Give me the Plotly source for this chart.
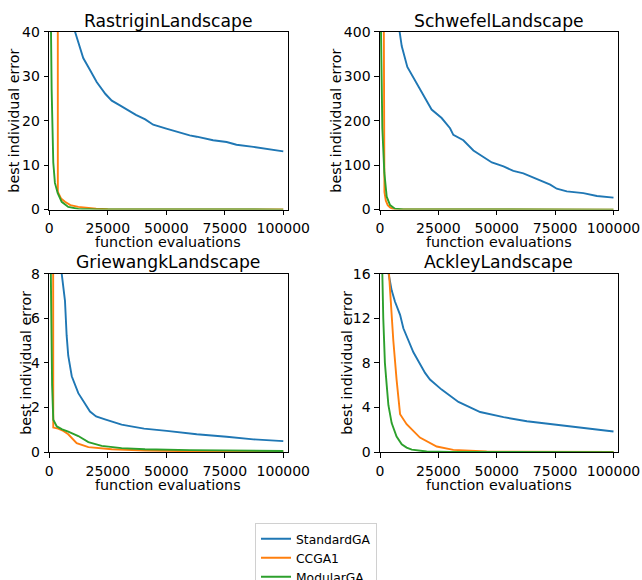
import plotly.graph_objects as go

# ---------------- data ----------------
series_names = ["StandardGA", "CCGA1", "ModularGA"]
colors = ["#1f77b4", "#ff7f0e", "#2ca02c"]
titles = ["RastriginLandscape", "SchwefelLandscape", "GriewangkLandscape", "AckleyLandscape"]
x_ticks = [0, 25000, 50000, 75000, 100000]

# Rastrigin
ras_std_x = [0, 8000, 11000, 14500, 17400, 20250, 24000, 26700, 30000, 33000, 37000, 41000, 44400, 50000, 54400, 60000, 63000, 70000, 75800, 80000, 87200, 92000, 100000]
ras_std_y = [70, 46, 40, 34.1, 31.4, 28.7, 26.0, 24.5, 23.5, 22.5, 21.3, 20.3, 19.1, 18.2, 17.5, 16.7, 16.4, 15.6, 15.2, 14.6, 14.1, 13.7, 13.1]
ras_cc_x = [0, 3500, 3650, 5000, 6700, 9000, 12400, 16000, 20000, 25000, 35000, 50000, 100000]
ras_cc_y = [400, 390, 4.0, 2.5, 1.75, 1.0, 0.6, 0.35, 0.2, 0.1, 0.04, 0.02, 0.01]
ras_mod_x = [0, 400, 730, 1000, 1300, 1700, 2400, 3600, 5300, 8100, 12400, 20000, 100000]
ras_mod_y = [200, 70, 40, 27, 18.3, 10.6, 6.0, 3.7, 1.75, 0.6, 0.15, 0.03, 0.0]

# Schwefel
sch_std_x = [0, 5000, 8300, 9300, 11700, 15700, 22100, 26400, 30000, 31400, 35700, 40000, 43600, 47900, 52900, 57100, 61400, 65700, 72900, 75700, 80000, 87100, 92900, 100000]
sch_std_y = [700, 520, 400, 368, 321, 283, 225, 206, 183, 168, 156, 133, 121, 106, 97, 87, 81.5, 71.5, 56, 47, 41, 37, 30.7, 27]
sch_cc_x = [0, 1500, 1900, 2500, 3300, 4300, 5500, 8000, 100000]
sch_cc_y = [1200, 600, 40, 20, 10, 5, 1.5, 0.3, 0.0]
sch_mod_x = [0, 430, 1000, 1850, 2870, 4300, 6400, 10000, 100000]
sch_mod_y = [1500, 400, 183, 83, 29, 10, 2, 0.5, 0.0]

# Griewangk
gri_std_x = [0, 4000, 5300, 6700, 7400, 8100, 9600, 12400, 17400, 20000, 23800, 30900, 35000, 40500, 50200, 63000, 75800, 87200, 100000]
gri_std_y = [60, 12, 8, 6.78, 5.24, 4.32, 3.4, 2.64, 1.82, 1.6, 1.47, 1.23, 1.15, 1.05, 0.95, 0.8, 0.69, 0.57, 0.49]
gri_cc_x = [0, 1500, 1700, 3800, 6000, 8100, 11700, 16700, 26700, 40900, 60000, 100000]
gri_cc_y = [50, 30, 1.1, 1.05, 0.95, 0.8, 0.4, 0.22, 0.13, 0.07, 0.04, 0.03]
gri_mod_x = [0, 600, 1200, 1700, 3200, 5500, 8100, 12400, 16700, 22400, 30900, 40900, 60000, 80000, 100000]
gri_mod_y = [50, 8.5, 3.0, 1.45, 1.15, 1.02, 0.92, 0.72, 0.45, 0.28, 0.18, 0.13, 0.09, 0.07, 0.05]

# Ackley
ack_std_x = [0, 1000, 3500, 5000, 6400, 8600, 10000, 14300, 19300, 21400, 26400, 28600, 33600, 42900, 52900, 62900, 74300, 87100, 100000]
ack_std_y = [21, 20, 16.2, 14.5, 13.5, 12.3, 11.1, 8.95, 7.1, 6.5, 5.6, 5.28, 4.5, 3.59, 3.13, 2.76, 2.46, 2.15, 1.84]
ack_cc_x = [0, 3000, 3860, 5700, 7100, 8600, 11400, 17100, 24300, 31400, 45700, 100000]
ack_cc_y = [21, 18, 16, 10.0, 6.5, 3.4, 2.5, 1.3, 0.5, 0.2, 0.05, 0.01]
ack_mod_x = [0, 1000, 1400, 2100, 2870, 3600, 5000, 7100, 9300, 11400, 13600, 20000, 30000, 100000]
ack_mod_y = [20, 16, 12, 8, 6, 4.2, 2.6, 1.4, 0.7, 0.4, 0.22, 0.05, 0.01, 0.0]

panels = [
    [(ras_std_x, ras_std_y), (ras_cc_x, ras_cc_y), (ras_mod_x, ras_mod_y)],
    [(sch_std_x, sch_std_y), (sch_cc_x, sch_cc_y), (sch_mod_x, sch_mod_y)],
    [(gri_std_x, gri_std_y), (gri_cc_x, gri_cc_y), (gri_mod_x, gri_mod_y)],
    [(ack_std_x, ack_std_y), (ack_cc_x, ack_cc_y), (ack_mod_x, ack_mod_y)],
]
y_ranges = [[0, 40], [0, 400], [0, 8], [0, 16]]
y_ticks = [[0, 10, 20, 30, 40], [0, 100, 200, 300, 400], [0, 2, 4, 6, 8], [0, 4, 8, 12, 16]]
x_range = [0, 101800]

# ---------------- layout (pixels in the 642x580 reference frame) ----------------
W, H = 642, 580
FIG_H = 595   # rendered height; the captured page is mapped back onto 580 px
FONT = "DejaVu Sans"
boxes = [  # (left, right, top, bottom) in pixels
    (49.3, 287.5, 31.0, 204.3),
    (380.0, 617.7, 31.0, 204.3),
    (49.3, 287.5, 266.7, 440.7),
    (380.0, 617.7, 266.7, 440.7),
]
ylabel_x = [14, 336, 26, 347]

def px(xp):
    return xp / W

def py(yp):
    return 1 - yp / H

fig = go.Figure()
annotations = []
layout_axes = {}
for i, (box, data) in enumerate(zip(boxes, panels)):
    l, r, t, b = box
    n = "" if i == 0 else str(i + 1)
    xa, ya = "x" + n, "y" + n
    for j, (xs, ys) in enumerate(data):
        fig.add_trace(go.Scatter(
            x=xs, y=ys, mode="lines", name=series_names[j],
            line=dict(color=colors[j], width=1.9),
            xaxis=xa, yaxis=ya, showlegend=(i == 0),
        ))
    common = dict(showline=True, linecolor="#000000", linewidth=1.05, mirror=True,
                  showgrid=False, zeroline=False, ticks="outside", ticklen=4.6,
                  tickwidth=1.05, tickcolor="#000000", automargin=False,
                  tickfont=dict(family=FONT, size=14, color="#000000"))
    layout_axes["xaxis" + n] = dict(domain=[px(l), px(r)], range=x_range,
                                    tickvals=x_ticks, ticktext=[str(v) for v in x_ticks],
                                    anchor=ya, ticklabelstandoff=1, **common)
    layout_axes["yaxis" + n] = dict(domain=[py(b), py(t)], range=y_ranges[i],
                                    tickvals=y_ticks[i], ticktext=[str(v) for v in y_ticks[i]],
                                    anchor=xa, ticklabelstandoff=1, **common)
    cx = (l + r) / 2
    annotations.append(dict(text=titles[i], x=px(cx), y=py(t - 11), xref="paper", yref="paper",
                            xanchor="center", yanchor="middle", showarrow=False,
                            font=dict(family=FONT, size=17.2, color="#000000")))
    annotations.append(dict(text="function evaluations", x=px(cx), y=py(b + 32), xref="paper",
                            yref="paper", xanchor="center", yanchor="middle", showarrow=False,
                            font=dict(family=FONT, size=14.3, color="#000000")))
    annotations.append(dict(text="best individual error", x=px(ylabel_x[i]), y=py((t + b) / 2),
                            xref="paper", yref="paper", xanchor="center", yanchor="middle",
                            textangle=-90, showarrow=False,
                            font=dict(family=FONT, size=14.3, color="#000000")))

fig.update_layout(
    width=W, height=FIG_H,
    margin=dict(l=0, r=0, t=0, b=0),
    plot_bgcolor="white", paper_bgcolor="white",
    font=dict(family=FONT, size=14, color="#000000"),
    annotations=annotations,
    legend=dict(x=px(255), y=py(510), xanchor="left", yanchor="top",
                bordercolor="#d0d0d0", borderwidth=1, bgcolor="rgba(255,255,255,0.8)",
                font=dict(family=FONT, size=12.3, color="#000000"),
                tracegroupgap=0, itemwidth=30, entrywidth=116, entrywidthmode="pixels"),
    showlegend=True,
    **layout_axes,
)

fig.write_html(
    "out.html",
    config={"displayModeBar": False},
    post_script=(
        "document.documentElement.style.margin='0';"
        "document.documentElement.style.overflow='hidden';"
        "document.body.style.margin='0';"
        "document.body.style.overflow='hidden';"
    ),
)
